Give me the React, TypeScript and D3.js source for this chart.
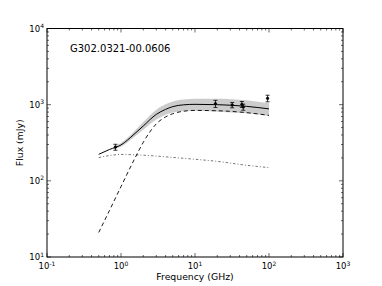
import React from "react";
import * as d3 from "d3";

const title = "G302.0321-00.0606";
const xLabel = "Frequency (GHz)";
const yLabel = "Flux (mJy)";

const totalFreq = [0.5, 0.7, 1, 1.5, 2, 3, 4, 5, 7, 10, 20, 50, 100];
const totalFlux = [223, 258, 296, 408, 525, 746, 867, 942, 995, 1010, 1000, 950, 880];

const thermalFreq = [0.5, 0.7, 1, 1.5, 2, 2.5, 3, 4, 5, 7, 10, 20, 50, 100];
const thermalFlux = [21, 41, 84, 188, 320, 450, 560, 690, 760, 820, 840, 832, 785, 724];

const nonThermalFreq = [0.5, 0.7, 1, 1.5, 2, 5, 10, 20, 50, 100];
const nonThermalFlux = [202, 215, 222, 220, 217, 203, 192, 180, 160, 149];

const bandFreq = [0.8, 1, 1.5, 2, 3, 4, 5, 7, 10, 20, 50, 100];
const bandLow = [265, 280, 375, 470, 640, 740, 790, 820, 830, 810, 770, 710];
const bandHigh = [285, 315, 445, 590, 860, 1010, 1100, 1170, 1200, 1200, 1140, 1040];

const obsFreq = [0.84, 18.9, 31.8, 43, 44.9, 95.7];
const obsFlux = [277, 1030, 990, 1010, 930, 1210];
const obsErr = [25, 110, 80, 90, 85, 120];

const xTicks = [-1, 0, 1, 2, 3];
const yTicks = [1, 2, 3, 4];

const W = 382, H = 286;
const L = 47, R = 343, T = 28.5, B = 257;
const font = "DejaVu Sans, sans-serif";

export default function App() {
  const x = d3.scaleLog().domain([0.1, 1000]).range([L, R]);
  const y = d3.scaleLog().domain([10, 10000]).range([B, T]);

  const lineOf = (fs: number[], vs: number[]) =>
    d3.line<number>().x((_, i) => x(fs[i])).y((v) => y(v)).curve(d3.curveMonotoneX)(vs) || "";

  const area = d3
    .area<number>()
    .x((_, i) => x(bandFreq[i]))
    .y0((_, i) => y(bandLow[i]))
    .y1((v) => y(v))
    .curve(d3.curveMonotoneX)(bandHigh) || "";

  const minorX: number[] = [];
  for (let e = -1; e < 3; e++) for (let k = 2; k <= 9; k++) minorX.push(k * Math.pow(10, e));
  const minorY: number[] = [];
  for (let e = 1; e < 4; e++) for (let k = 2; k <= 9; k++) minorY.push(k * Math.pow(10, e));

  return (
    <svg width={W} height={H} style={{ position: "absolute", left: 0, top: 0 }} fontFamily={font}>
      <rect x={0} y={0} width={W} height={H} fill="white" />
      <path d={area} fill="#cccccc" stroke="none" />
      <path d={lineOf(nonThermalFreq, nonThermalFlux)} fill="none" stroke="#555" strokeWidth={0.8} strokeDasharray="2.5,2,1,2" />
      <path d={lineOf(thermalFreq, thermalFlux)} fill="none" stroke="#000" strokeWidth={0.9} strokeDasharray="4,3" />
      <path d={lineOf(totalFreq, totalFlux)} fill="none" stroke="#000" strokeWidth={1} />
      {obsFreq.map((f, i) => {
        const cx = x(f);
        const y0 = y(obsFlux[i] - obsErr[i]);
        const y1 = y(obsFlux[i] + obsErr[i]);
        return (
          <g key={i} stroke="#000" strokeWidth={0.8}>
            <line x1={cx} x2={cx} y1={y0} y2={y1} />
            <line x1={cx - 2} x2={cx + 2} y1={y0} y2={y0} />
            <line x1={cx - 2} x2={cx + 2} y1={y1} y2={y1} />
            <circle cx={cx} cy={y(obsFlux[i])} r={1.2} fill="#000" />
          </g>
        );
      })}
      <g stroke="#000" strokeWidth={0.6}>
        {xTicks.map((e) => {
          const px = x(Math.pow(10, e));
          return (
            <g key={"xt" + e}>
              <line x1={px} x2={px} y1={B} y2={B - 4} />
              <line x1={px} x2={px} y1={T} y2={T + 4} />
            </g>
          );
        })}
        {minorX.map((v, i) => {
          const px = x(v);
          return (
            <g key={"xm" + i}>
              <line x1={px} x2={px} y1={B} y2={B - 2} />
              <line x1={px} x2={px} y1={T} y2={T + 2} />
            </g>
          );
        })}
        {yTicks.map((e) => {
          const py = y(Math.pow(10, e));
          return (
            <g key={"yt" + e}>
              <line x1={L} x2={L + 4} y1={py} y2={py} />
              <line x1={R} x2={R - 4} y1={py} y2={py} />
            </g>
          );
        })}
        {minorY.map((v, i) => {
          const py = y(v);
          return (
            <g key={"ym" + i}>
              <line x1={L} x2={L + 2} y1={py} y2={py} />
              <line x1={R} x2={R - 2} y1={py} y2={py} />
            </g>
          );
        })}
      </g>
      <rect x={L} y={T} width={R - L} height={B - T} fill="none" stroke="#000" strokeWidth={1} />
      {xTicks.map((e) => (
        <text key={"xl" + e} x={x(Math.pow(10, e))} y={B + 12} textAnchor="middle" fontSize={8.5} fill="#000">
          10<tspan dy={-3.5} fontSize={6}>{e}</tspan>
        </text>
      ))}
      {yTicks.map((e) => (
        <text key={"yl" + e} x={L - 3} y={y(Math.pow(10, e)) + 3} textAnchor="end" fontSize={8.5} fill="#000">
          10<tspan dy={-3.5} fontSize={6}>{e}</tspan>
        </text>
      ))}
      <text x={(L + R) / 2} y={280} textAnchor="middle" fontSize={9.3} fill="#000">{xLabel}</text>
      <text transform={`translate(23,${(T + B) / 2}) rotate(-90)`} textAnchor="middle" fontSize={9.3} fill="#000">{yLabel}</text>
      <text x={70} y={52} fontSize={10} fill="#000">{title}</text>
    </svg>
  );
}
